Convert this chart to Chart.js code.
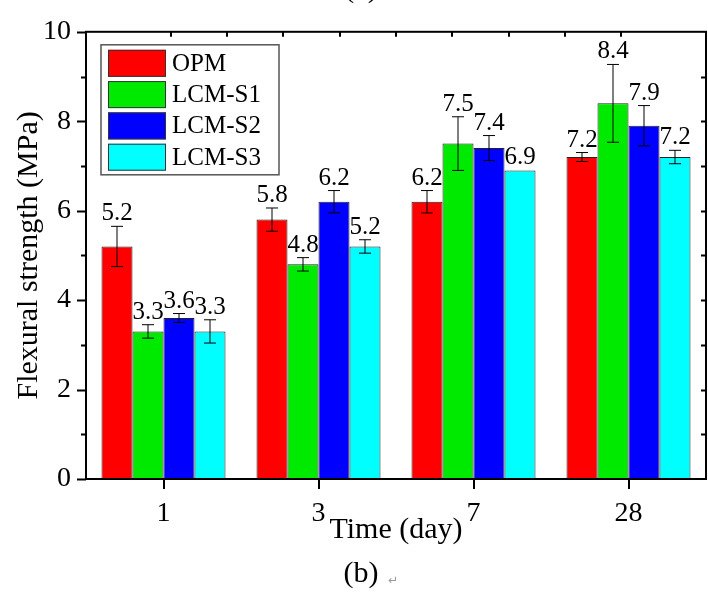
<!DOCTYPE html>
<html>
<head>
<meta charset="utf-8">
<script src="https://cdn.jsdelivr.net/npm/chart.js@4.4.1/dist/chart.umd.min.js"></script>
<style>
  html, body { margin: 0; padding: 0; background: #fff; }
  #wrap { width: 708px; height: 595px; }
</style>
</head>
<body>
<div id="wrap"><canvas id="chart" width="708" height="595"></canvas></div>
<script>
// curing time categories
const days = ["1", "3", "7", "28"];
const seriesNames = ["OPM", "LCM-S1", "LCM-S2", "LCM-S3"];

// flexural strength (MPa) and error bars
const opm = [5.2, 5.8, 6.2, 7.2];
const opmErr = [0.45, 0.26, 0.25, 0.1];
const lcmS1 = [3.3, 4.8, 7.5, 8.4];
const lcmS1Err = [0.15, 0.15, 0.6, 0.87];
const lcmS2 = [3.6, 6.2, 7.4, 7.9];
const lcmS2Err = [0.1, 0.25, 0.28, 0.45];
const lcmS3 = [3.3, 5.2, 6.9, 7.2];
const lcmS3Err = [0.26, 0.15, 0, 0.15];

const colors = ["#ff0000", "#00ea00", "#0000ff", "#00ffff"];
const FONT = "'Liberation Serif', 'Times New Roman', serif";

const values = [opm, lcmS1, lcmS2, lcmS3];
const errors = [opmErr, lcmS1Err, lcmS2Err, lcmS3Err];

const decorPlugin = {
  id: "decor",
  afterDatasetsDraw(chart) {
    const ctx = chart.ctx;
    const y = chart.scales.y;
    ctx.save();
    chart.data.datasets.forEach((ds, i) => {
      const meta = chart.getDatasetMeta(i);
      meta.data.forEach((bar, j) => {
        const v = ds.data[j];
        const e = errors[i][j];
        const top = y.getPixelForValue(v + e);
        if (e > 0) {
          const bot = y.getPixelForValue(v - e);
          ctx.strokeStyle = "#000";
          ctx.lineWidth = 1;
          ctx.beginPath();
          ctx.moveTo(bar.x, top); ctx.lineTo(bar.x, bot);
          ctx.moveTo(bar.x - 6, top); ctx.lineTo(bar.x + 6, top);
          ctx.moveTo(bar.x - 6, bot); ctx.lineTo(bar.x + 6, bot);
          ctx.stroke();
        }
        ctx.fillStyle = "#000";
        ctx.font = "25px " + FONT;
        ctx.textAlign = "center";
        ctx.textBaseline = "alphabetic";
        ctx.fillText(v.toFixed(1), bar.x, top - 6);
      });
    });
    ctx.restore();
  },
  afterDraw(chart) {
    const ctx = chart.ctx;
    const a = chart.chartArea;
    const x = chart.scales.x;
    const y = chart.scales.y;
    const xTop = chart.scales.xTop;
    ctx.save();
    ctx.strokeStyle = "#000";
    ctx.lineWidth = 2;
    ctx.strokeRect(a.left, a.top, a.right - a.left, a.bottom - a.top);

    ctx.beginPath();
    for (let v = 0; v <= 10; v++) {
      const py = Math.round(y.getPixelForValue(v)) + 0.5;
      const len = v % 2 === 0 ? 9 : 5;
      ctx.moveTo(a.left - len, py); ctx.lineTo(a.left, py);
      if (v > 0 && v < 10) { ctx.moveTo(a.right, py); ctx.lineTo(a.right - 5, py); }
    }
    days.forEach((d, i) => {
      const px = Math.round(x.getPixelForValue(i));
      ctx.moveTo(px, a.bottom); ctx.lineTo(px, a.bottom + 10);
    });
    for (let k = 1; k < 10; k++) {
      const px = Math.round(xTop.getPixelForValue(k));
      ctx.moveTo(px, a.top); ctx.lineTo(px, a.top + 5);
    }
    ctx.stroke();

    // legend box
    const lx = a.left + 15, ly = a.top + 13;
    ctx.lineWidth = 1.5;
    ctx.strokeStyle = "#555";
    ctx.strokeRect(lx, ly, 178, 130);
    ctx.font = "25px " + FONT;
    ctx.textAlign = "left";
    ctx.textBaseline = "alphabetic";
    seriesNames.forEach((name, i) => {
      const sy = ly + 5 + i * 31.3;
      ctx.fillStyle = colors[i];
      ctx.fillRect(lx + 7, sy, 58, 27);
      ctx.lineWidth = 1;
      ctx.strokeStyle = "#333";
      ctx.strokeRect(lx + 7.5, sy + 0.5, 57, 26);
      ctx.fillStyle = "#000";
      ctx.fillText(name, lx + 71, sy + 21);
    });

    // captions
    const cx = chart.width / 2 + 7;
    ctx.font = "30px " + FONT;
    ctx.textAlign = "center";
    ctx.fillText("(a)", cx, -3);
    ctx.fillText("(b)", cx, 582);
    ctx.font = "12px 'DejaVu Sans'";
    ctx.fillStyle = "#999";
    ctx.fillText("\u21B5", cx + 32, 584);
    ctx.restore();
  }
};

new Chart(document.getElementById("chart"), {
  type: "bar",
  data: {
    labels: days,
    datasets: seriesNames.map((name, i) => ({
      label: name,
      data: values[i],
      backgroundColor: colors[i],
      borderColor: "#222",
      borderWidth: 1,
      xAxisID: "x",
      yAxisID: "y",
      categoryPercentage: 0.8,
      barPercentage: 1.0,
    })),
  },
  options: {
    responsive: false,
    animation: false,
    devicePixelRatio: 1,
    layout: { padding: { top: 21, right: 2, left: 0, bottom: 0 } },
    plugins: { legend: { display: false }, tooltip: { enabled: false } },
    scales: {
      x: {
        type: "category",
        position: "bottom",
        grid: { display: false, drawTicks: false },
        border: { display: false },
        ticks: { color: "#000", font: { family: FONT, size: 28 }, padding: 18, maxRotation: 0 },
        title: { display: true, text: "Time (day)", color: "#000", font: { family: FONT, size: 30 }, padding: { top: 0, bottom: 47 } },
        afterFit: (s) => { s.height = 116; },
      },
      xTop: {
        type: "linear",
        axis: "x",
        position: "top",
        display: false,
        min: 0,
        max: 10,
      },
      y: {
        min: 0,
        max: 10,
        grid: { display: false, drawTicks: false },
        border: { display: false },
        ticks: { stepSize: 2, color: "#000", font: { family: FONT, size: 28 }, padding: 15 },
        title: { display: true, text: "Flexural strength (MPa)", color: "#000", font: { family: FONT, size: 30 }, padding: { top: 11, bottom: 0 } },
        afterFit: (s) => { s.width = 86; },
      },
    },
  },
  plugins: [decorPlugin],
});
</script>
</body>
</html>
